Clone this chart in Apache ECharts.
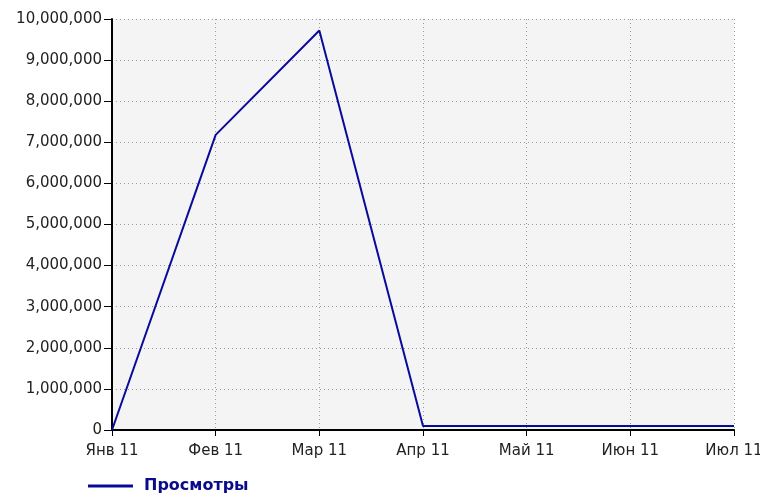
<!DOCTYPE html>
<html>
<head>
<meta charset="utf-8">
<script src="https://cdn.jsdelivr.net/npm/echarts@6/dist/echarts.min.js"></script>
<style>
  html, body { margin: 0; padding: 0; background: #fff; }
  #chart { width: 760px; height: 494px; }
</style>
</head>
<body>
<div id="chart"></div>
<script>
// данные
var months = ['Янв 11', 'Фев 11', 'Мар 11', 'Апр 11', 'Май 11', 'Июн 11', 'Июл 11'];
var views = [0, 7180000, 9720000, 100000, 100000, 100000, 100000];
var seriesName = 'Просмотры';

var chart = echarts.init(document.getElementById('chart'));

var font = 'DejaVu Sans';
var gridLine = { type: [1, 3], color: '#9a9a9a', width: 1 };

option = {
  animation: false,
  grid: {
    left: 112,
    right: 26,
    top: 19,
    bottom: 64,
    outerBoundsMode: 'none',
    containLabel: false,
    show: true,
    backgroundColor: '#f4f4f4',
    borderWidth: 0
  },
  legend: {
    left: 83,
    top: 473,
    icon: 'rect',
    itemWidth: 45,
    itemHeight: 3,
    textStyle: {
      color: '#0a0a8c',
      fontWeight: 'bold',
      fontFamily: font,
      fontSize: 16,
      padding: [0, 0, 0, 6]
    },
    data: [seriesName]
  },
  xAxis: {
    type: 'category',
    boundaryGap: false,
    data: months,
    axisLine: { lineStyle: { color: '#000', width: 2 } },
    axisTick: { show: true, length: 6, alignWithLabel: true, lineStyle: { color: '#000', width: 1 } },
    axisLabel: { color: '#222', fontFamily: font, fontSize: 15, margin: 14 },
    splitLine: { show: true, lineStyle: gridLine }
  },
  yAxis: {
    type: 'value',
    min: 0,
    max: 10000000,
    interval: 1000000,
    axisLine: { show: true, lineStyle: { color: '#000', width: 2 } },
    axisTick: { show: true, length: 8, lineStyle: { color: '#000', width: 1 } },
    axisLabel: {
      color: '#222',
      fontFamily: font,
      fontSize: 15,
      margin: 10,
      formatter: function (v) {
        return v.toLocaleString('en-US');
      }
    },
    splitLine: { show: true, lineStyle: gridLine }
  },
  series: [
    {
      name: seriesName,
      type: 'line',
      data: views,
      showSymbol: false,
      symbol: 'none',
      lineStyle: { color: '#0a0a9a', width: 2 },
      itemStyle: { color: '#0a0a9a' }
    }
  ]
};

chart.setOption(option);
</script>
</body>
</html>
